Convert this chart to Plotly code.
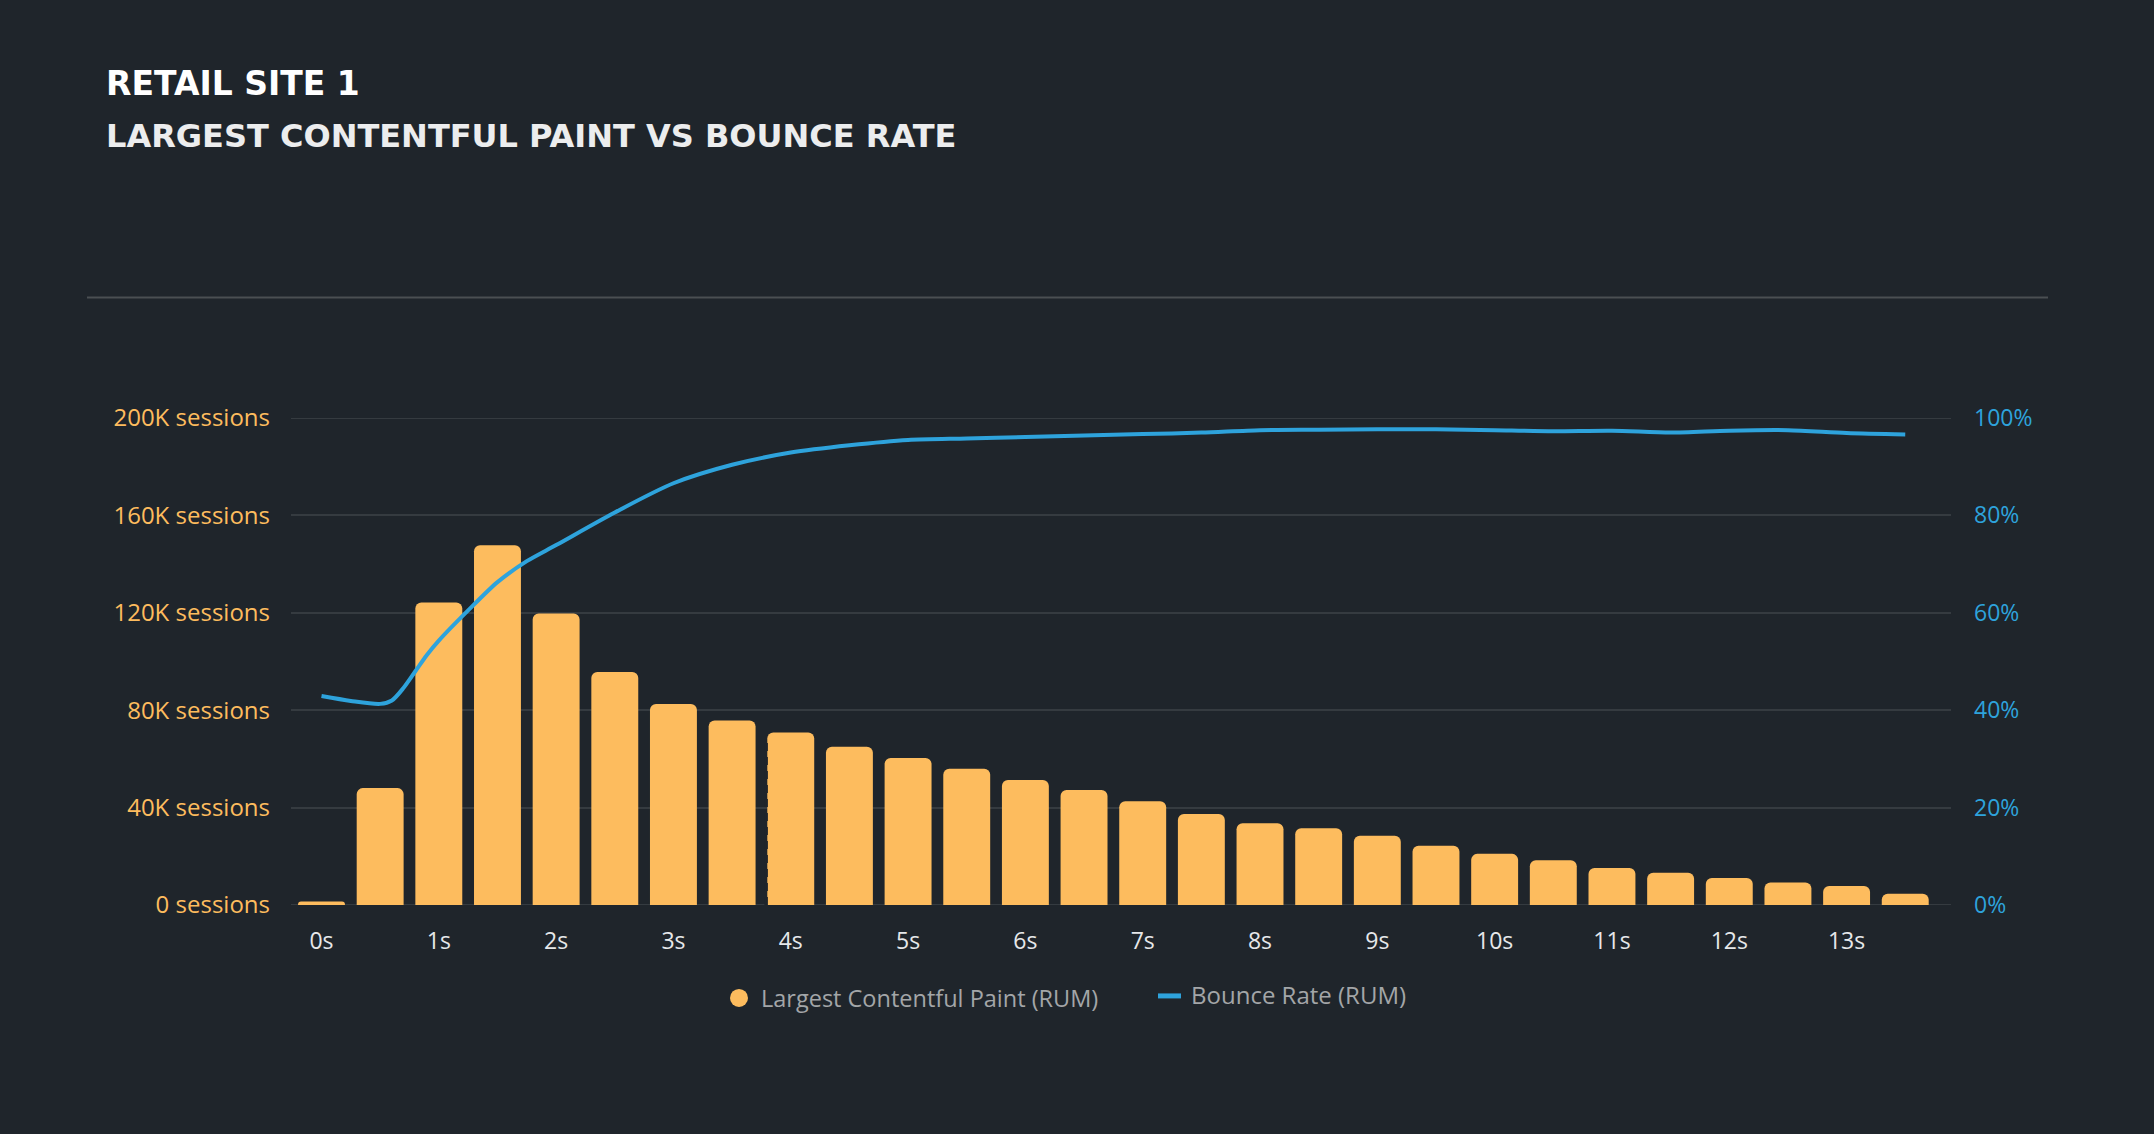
import plotly.graph_objects as go

# ---------------- data ----------------
bar_x = [i * 0.5 for i in range(28)]
lcp_sessions = [1400, 48000, 124200, 147700, 119700, 95700, 82500, 75800, 70800, 65000,
                60400, 56000, 51300, 47200, 42600, 37400, 33600, 31500, 28400, 24300,
                21000, 18400, 15200, 13200, 11100, 9200, 7800, 4600]

bounce_x = [0, 0.25, 0.5, 0.6, 0.7, 0.8, 0.9, 1.0, 1.25, 1.5, 1.75, 2.0, 2.5, 3.0, 3.5, 4.0,
            4.5, 5.0, 5.5, 6.0, 6.5, 7.0, 7.5, 8.0, 8.5, 9.0, 9.5, 10.0, 10.5, 11.0, 11.5,
            12.0, 12.5, 13.0, 13.5]
bounce_rate = [42.9, 41.9, 41.3, 42.0, 44.6, 48.0, 51.4, 54.3, 60.5, 66.3, 70.6, 73.9, 80.6,
               86.6, 90.4, 92.9, 94.4, 95.5, 95.8, 96.1, 96.4, 96.7, 97.0, 97.5, 97.6, 97.7,
               97.7, 97.5, 97.3, 97.4, 97.0, 97.4, 97.5, 96.9, 96.6]

marker_x = 3.79          # dashed reference marker position (s)
marker_top = 67000       # dashed marker height (sessions)

x_tick_vals = list(range(14))
x_tick_text = [f"{v}s" for v in x_tick_vals]
y_tick_vals = [0, 40000, 80000, 120000, 160000, 200000]
y_tick_text = ["0 sessions", "40K sessions", "80K sessions", "120K sessions",
               "160K sessions", "200K sessions"]
y2_tick_vals = [0, 20, 40, 60, 80, 100]
y2_tick_text = ["0%", "20%", "40%", "60%", "80%", "100%"]

title = "RETAIL SITE 1"
subtitle = "LARGEST CONTENTFUL PAINT VS BOUNCE RATE"
legend_bar = "Largest Contentful Paint (RUM)"
legend_line = "Bounce Rate (RUM)"

# ---------------- style ----------------
BG = "#1F252B"
ORANGE = "#FDBC5E"
BLUE = "#2EA3DC"
GRID = "#353B40"
W, H = 2154, 1134
L, R, T, B = 291, 1951, 417.6, 905

def px(xpix):
    return (xpix - L) / (R - L)

def py(ypix):
    return (B - ypix) / (B - T)

fig = go.Figure()

# gridlines at the range ends (drawn below the traces)
for gv in (y_tick_vals[0], y_tick_vals[-1]):
    fig.add_shape(type="line", xref="paper", yref="y", x0=0, x1=1, y0=gv, y1=gv,
                  line=dict(color=GRID, width=2), layer="below")

fig.add_trace(go.Bar(
    x=bar_x, y=lcp_sessions, marker=dict(color=ORANGE, cornerradius=6, line=dict(width=0)),
    name=legend_bar, showlegend=False, hoverinfo="x+y"))
fig.add_trace(go.Scatter(
    x=[marker_x, marker_x], y=[0, marker_top], mode="lines",
    line=dict(color=BG, width=3.5, dash="8px,6px"), showlegend=False, hoverinfo="skip"))
fig.add_trace(go.Scatter(
    x=bounce_x, y=bounce_rate, yaxis="y2", mode="lines",
    line=dict(color=BLUE, width=4, shape="spline", smoothing=0.8),
    name=legend_line, showlegend=False))

fig.update_layout(
    width=W, height=H,
    paper_bgcolor=BG, plot_bgcolor=BG,
    margin=dict(l=L, r=W - R, t=T, b=H - B),
    bargap=0.2,
    showlegend=False,
    xaxis=dict(range=[-0.26, 13.89], tickvals=x_tick_vals, ticktext=x_tick_text,
               showgrid=False, zeroline=False, showline=False,
               tickfont=dict(family="Open Sans", size=23, color="#E6E8EA"),
               ticklabelstandoff=20),
    yaxis=dict(range=[0, 200000], tickvals=y_tick_vals, ticktext=y_tick_text,
               showgrid=True, gridcolor=GRID, gridwidth=2, zeroline=False,
               tickfont=dict(family="Open Sans", size=24, color=ORANGE),
               ticklabelstandoff=20),
    yaxis2=dict(range=[0, 100], tickvals=y2_tick_vals, ticktext=y2_tick_text,
                overlaying="y", side="right", showgrid=False, zeroline=False,
                tickfont=dict(family="Open Sans", size=23, color=BLUE),
                ticklabelstandoff=22),
)

# separator line
fig.add_shape(type="line", xref="paper", yref="paper", x0=px(87), x1=px(2048),
              y0=py(297), y1=py(297), line=dict(color="#4A4F52", width=2))

# titles
fig.add_annotation(text=title, xref="paper", yref="paper", x=px(104), y=py(83),
                   xanchor="left", yanchor="middle", showarrow=False,
                   font=dict(family="DejaVu Sans", size=33, color="#FFFFFF", weight="bold"))
fig.add_annotation(text=subtitle, xref="paper", yref="paper", x=px(104), y=py(135),
                   xanchor="left", yanchor="middle", showarrow=False,
                   font=dict(family="DejaVu Sans", size=32, color="#ECEDEE", weight="bold"))

# legend (manual)
fig.add_shape(type="circle", xref="paper", yref="paper",
              x0=px(730), x1=px(748), y0=py(1007), y1=py(989),
              fillcolor=ORANGE, line=dict(width=0))
fig.add_annotation(text=legend_bar, xref="paper", yref="paper", x=px(759), y=py(998),
                   xanchor="left", yanchor="middle", showarrow=False,
                   font=dict(family="Open Sans", size=23.5, color="#A3A6A8"))
fig.add_shape(type="line", xref="paper", yref="paper", x0=px(1158), x1=px(1181),
              y0=py(996), y1=py(996), line=dict(color=BLUE, width=5))
fig.add_annotation(text=legend_line, xref="paper", yref="paper", x=px(1189), y=py(995),
                   xanchor="left", yanchor="middle", showarrow=False,
                   font=dict(family="Open Sans", size=24, color="#A3A6A8"))

fig.write_html("out.html")
